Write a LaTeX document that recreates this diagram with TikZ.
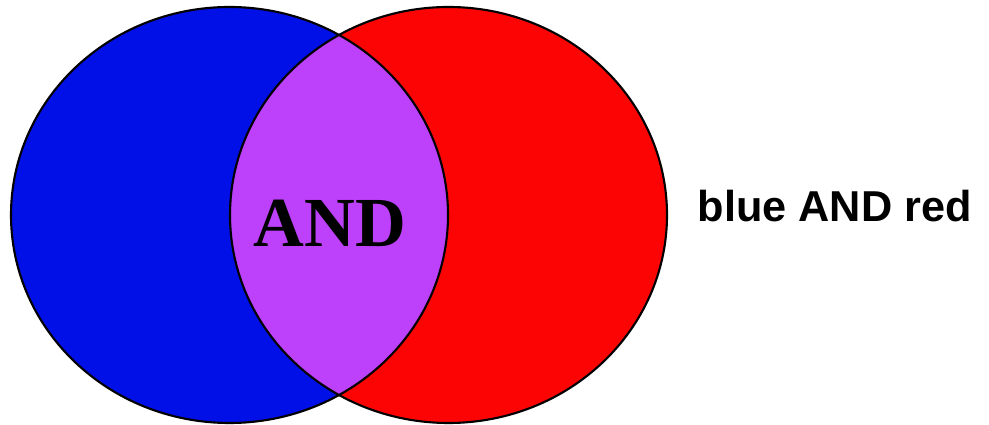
\documentclass[tikz,border=0pt]{standalone}
\usepackage{fontspec}
\setmainfont{Liberation Sans}
\newfontfamily\stencilfont{Liberation Serif}
\usepackage{tikz}
\usetikzlibrary{positioning}
\definecolor{vennblue}{RGB}{0,16,230}
\definecolor{vennred}{RGB}{252,4,4}
\definecolor{vennpurple}{RGB}{189,64,251}

\begin{document}
\begin{tikzpicture}[x=0.01cm, y=-0.01cm]
    \tikzset{setline/.style={draw=black, line width=0.6pt}}
    \useasboundingbox (0,0) rectangle (989,425);

    % Set A: blue
    \fill[vennblue] (229.5,215) ellipse [x radius=218.5, y radius=208];
    % Set B: red
    \fill[vennred] (448.5,215) ellipse [x radius=218.5, y radius=208];

    % Intersection
    \begin{scope}
      \clip (229.5,215) ellipse [x radius=218.5, y radius=208];
      \fill[vennpurple] (448.5,215) ellipse [x radius=218.5, y radius=208];
    \end{scope}

    % Outlines
    \draw[setline] (229.5,215) ellipse [x radius=218.5, y radius=208];
    \draw[setline] (448.5,215) ellipse [x radius=218.5, y radius=208];

    % Labels
    \node[font=\stencilfont\fontsize{20}{24}\selectfont\bfseries] (andlbl) at (330,223) {AND};
    \node[font=\fontsize{12.3}{14}\selectfont\bfseries, anchor=west, inner sep=0pt] (caption) at (697,206) {blue AND red};
  \end{tikzpicture}
\end{document}
